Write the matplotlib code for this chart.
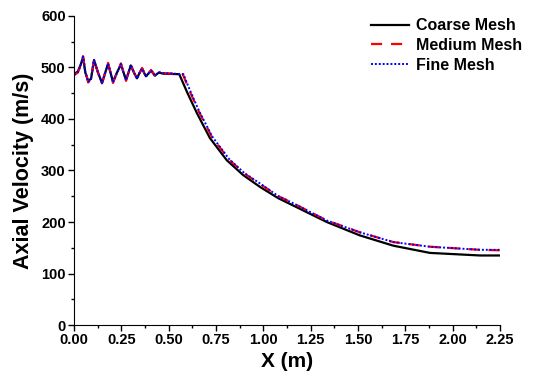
import matplotlib
matplotlib.use("Agg")
import matplotlib.pyplot as plt
from matplotlib.ticker import MultipleLocator

plt.rcParams['font.family'] = ['Liberation Sans', 'DejaVu Sans']
plt.rcParams['font.weight'] = 'bold'

# Coarse mesh
x_coarse = [0.0, 0.02, 0.035, 0.048, 0.06, 0.075, 0.09, 0.106, 0.127, 0.148, 0.165,
            0.18, 0.193, 0.206, 0.227, 0.248, 0.262, 0.275, 0.288, 0.30, 0.317,
            0.333, 0.347, 0.36, 0.37, 0.38, 0.393, 0.407, 0.418, 0.428, 0.44,
            0.45, 0.47, 0.556, 0.60, 0.65, 0.718, 0.807, 0.894, 0.983, 1.08, 1.158,
            1.335, 1.51, 1.687, 1.88, 2.145, 2.25]
v_coarse = [487, 492, 505, 520, 490, 474, 478, 514, 490, 470, 490,
            507, 490, 472, 490, 506, 490, 476, 490, 504, 490,
            479, 490, 498, 490, 483, 488, 494, 489, 484, 488,
            490, 488, 487, 450, 411, 363, 320, 291, 268, 246, 232,
            200, 174, 154, 140, 135, 135]

# Medium mesh
x_medium = [0.0, 0.02, 0.035, 0.048, 0.06, 0.075, 0.09, 0.106, 0.127, 0.148, 0.165,
            0.18, 0.193, 0.206, 0.227, 0.248, 0.262, 0.275, 0.288, 0.30, 0.317,
            0.333, 0.347, 0.36, 0.37, 0.38, 0.393, 0.407, 0.418, 0.428, 0.44,
            0.45, 0.47, 0.575, 0.61, 0.66, 0.73, 0.82, 0.90, 0.99, 1.08, 1.16,
            1.335, 1.51, 1.687, 1.88, 2.145, 2.25]
v_medium = [485, 490, 503, 522, 492, 471, 478, 516, 490, 468, 490,
            509, 490, 470, 490, 508, 490, 474, 490, 506, 490,
            478, 490, 499, 490, 482, 488, 495, 490, 483, 488,
            491, 489, 487, 455, 414, 364, 321, 294, 272, 250, 236,
            203, 180, 161, 152, 146, 145]

# Fine mesh
x_fine = [0.0, 0.02, 0.035, 0.048, 0.06, 0.075, 0.09, 0.106, 0.127, 0.148, 0.165,
          0.18, 0.193, 0.206, 0.227, 0.248, 0.262, 0.275, 0.288, 0.30, 0.317,
          0.333, 0.347, 0.36, 0.37, 0.38, 0.393, 0.407, 0.418, 0.428, 0.44,
          0.45, 0.47, 0.578, 0.61, 0.66, 0.73, 0.82, 0.90, 0.99, 1.08, 1.16,
          1.335, 1.51, 1.687, 1.88, 2.145, 2.25]
v_fine = [486, 491, 504, 521, 491, 472, 478, 515, 490, 469, 490,
          508, 490, 471, 490, 507, 490, 475, 490, 505, 490,
          478, 490, 498, 490, 482, 488, 494, 489, 484, 488,
          491, 489, 487, 458, 416, 366, 322, 295, 273, 250, 236,
          203, 180, 161, 152, 146, 146]

fig = plt.figure(figsize=(5.5, 3.89), dpi=100)
ax = fig.add_axes([0.1345, 0.1645, 0.7745, 0.7944])

ax.plot(x_coarse, v_coarse, color='black', lw=1.6, label='Coarse Mesh')
ax.plot(x_medium, v_medium, color='red', lw=1.6, ls=(0, (5, 4)), label='Medium Mesh')
ax.plot(x_fine, v_fine, color='blue', lw=1.4, ls=(0, (1, 1)), label='Fine Mesh')

ax.set_xlim(0, 2.25)
ax.set_ylim(0, 600)
ax.xaxis.set_major_locator(MultipleLocator(0.25))
ax.xaxis.set_minor_locator(MultipleLocator(0.125))
ax.yaxis.set_major_locator(MultipleLocator(100))
ax.yaxis.set_minor_locator(MultipleLocator(50))
ax.xaxis.set_major_formatter(plt.FuncFormatter(lambda v, p: f"{v:.2f}"))

for s in ['top', 'right']:
    ax.spines[s].set_visible(False)
ax.tick_params(which='major', direction='out', length=4, width=1, labelsize=10.5, pad=2)
ax.tick_params(which='minor', direction='out', length=2.5, width=1)
for lab in ax.get_xticklabels() + ax.get_yticklabels():
    lab.set_fontweight('bold')

ax.set_xlabel("X (m)", fontsize=15, fontweight='bold', labelpad=3)
ax.set_ylabel("Axial Velocity (m/s)", fontsize=15.5, fontweight='bold', labelpad=5)

fig.legend(loc='upper right', bbox_to_anchor=(0.975, 0.99), frameon=False,
           prop={'size': 11.5, 'weight': 'bold'}, handlelength=2.4,
           handletextpad=0.4, labelspacing=0.3)

fig.savefig("out.png", dpi=100)
